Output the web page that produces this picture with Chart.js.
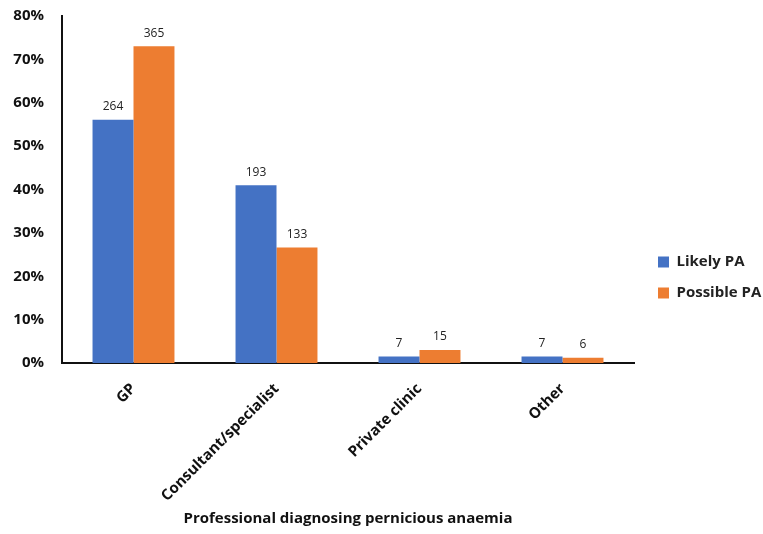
<!DOCTYPE html>
<html>
<head>
<meta charset="utf-8">
<script src="https://cdn.jsdelivr.net/npm/chart.js@4.4.1/dist/chart.umd.min.js"></script>
<style>
html,body{margin:0;padding:0;background:#fff;}
#wrap{width:763px;height:534px;}
</style>
</head>
<body>
<div id="wrap"><canvas id="c" width="763" height="534"></canvas></div>
<script>
const categories = ["GP", "Consultant/specialist", "Private clinic", "Other"];
const likelyPct = [56.1, 41.0, 1.5, 1.5];
const possiblePct = [73.0, 26.6, 3.0, 1.2];
const likelyCounts = [264, 193, 7, 7];
const possibleCounts = [365, 133, 15, 6];
const yTicks = [0, 10, 20, 30, 40, 50, 60, 70, 80];

const FONT = "'Open Sans', 'Liberation Sans', sans-serif";

const countLabels = {
  id: 'countLabels',
  afterDatasetsDraw(chart) {
    const ctx = chart.ctx;
    ctx.save();
    ctx.font = "12px " + FONT;
    ctx.fillStyle = "#222";
    ctx.textAlign = "center";
    ctx.textBaseline = "bottom";
    chart.data.datasets.forEach((ds, i) => {
      const meta = chart.getDatasetMeta(i);
      meta.data.forEach((bar, j) => {
        ctx.fillText(String(ds.counts[j]), bar.x, bar.y - 7);
      });
    });
    ctx.restore();
  }
};

const legendShift = {
  id: 'legendShift',
  afterLayout(chart) {
    const lg = chart.legend;
    if (!lg) return;
    const dx = 8, dy = 11;
    lg.left += dx; lg.right += dx;
    lg.top += dy; lg.bottom += dy;
  }
};

new Chart(document.getElementById('c'), {
  type: 'bar',
  data: {
    labels: categories,
    datasets: [
      { label: 'Likely PA', data: likelyPct, counts: likelyCounts, backgroundColor: '#4472C4', barPercentage: 1.0, categoryPercentage: 0.573 },
      { label: 'Possible PA', data: possiblePct, counts: possibleCounts, backgroundColor: '#ED7D31', barPercentage: 1.0, categoryPercentage: 0.573 }
    ]
  },
  options: {
    responsive: false,
    animation: false,
    devicePixelRatio: 1,
    layout: { padding: { top: 1, left: 0, right: 0, bottom: 2 } },
    plugins: {
      legend: {
        position: 'right',
        maxWidth: 129,
        labels: {
          boxWidth: 11, boxHeight: 11, padding: 16,
          color: '#222',
          font: { family: FONT, size: 15, weight: 'bold' }
        }
      },
      tooltip: { enabled: false }
    },
    scales: {
      x: {
        grid: { display: false, drawTicks: false },
        border: { display: true, color: '#111', width: 2 },
        afterFit(axis) { axis.height = 169; },
        ticks: {
          color: '#111', maxRotation: 45, minRotation: 45, padding: 17,
          font: { family: FONT, size: 15, weight: 'bold' }
        },
        title: {
          display: true, text: 'Professional diagnosing pernicious anaemia',
          color: '#111',
          font: { family: FONT, size: 15, weight: 'bold' }
        }
      },
      y: {
        min: 0, max: 80,
        grid: { display: false, drawTicks: false },
        border: { display: true, color: '#111', width: 2 },
        afterFit(axis) { axis.width = 62; axis.paddingTop = 16; axis.paddingBottom = 10; },
        afterBuildTicks(axis) { axis.ticks = yTicks.map(v => ({ value: v })); },
        ticks: {
          color: '#111', padding: 18,
          font: { family: FONT, size: 15, weight: 'bold' },
          callback: v => v + '%'
        }
      }
    }
  },
  plugins: [countLabels, legendShift]
});
</script>
</body>
</html>
